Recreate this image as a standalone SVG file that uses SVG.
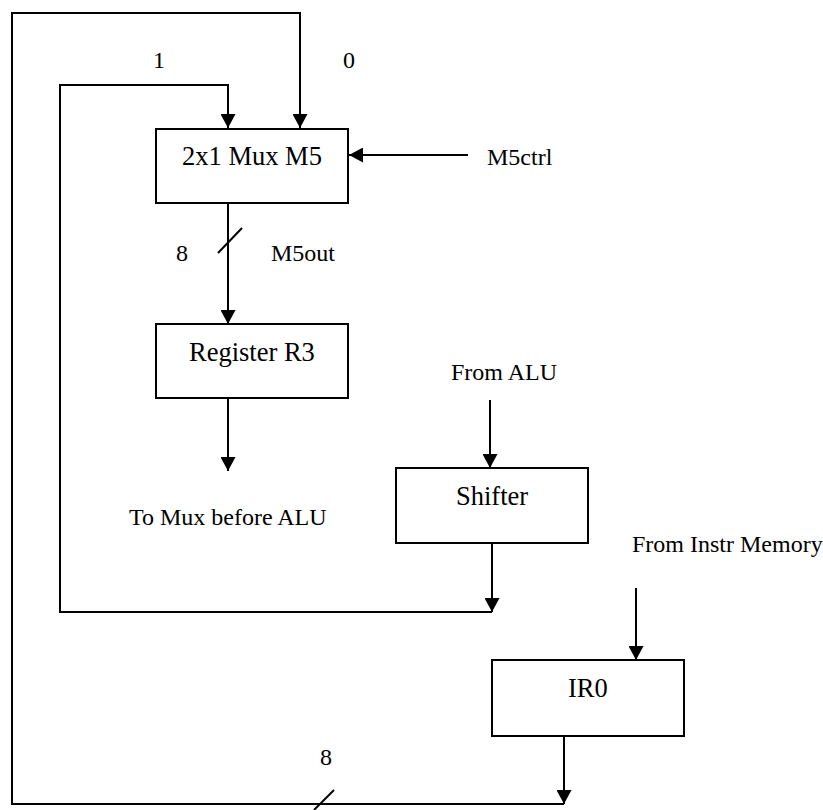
<svg xmlns="http://www.w3.org/2000/svg" width="823" height="810" viewBox="0 0 823 810">
<style>
.box{fill:#fff;stroke:#000;stroke-width:2}
.ln{fill:none;stroke:#000;stroke-width:2}
.t{font-family:"Liberation Serif","Times New Roman",serif;font-size:24px;fill:#000}
.bt{font-family:"Liberation Serif","Times New Roman",serif;font-size:26.5px;fill:#000}
</style>
<defs>
<marker id="ah" viewBox="0 0 14 15" refX="14" refY="7.5" markerWidth="14" markerHeight="15" markerUnits="userSpaceOnUse" orient="auto">
<path d="M0,0 L14,7.5 L0,15 z" fill="#000"/>
</marker>
</defs>
<rect width="823" height="810" fill="#fff"/>
<g id="connectors">
<path class="ln" d="M564,732 V804" marker-end="url(#ah)"/>
<path class="ln" d="M564,804 H12 V13 H300 V128" marker-end="url(#ah)"/>
<path class="ln" d="M492,540 V612" marker-end="url(#ah)"/>
<path class="ln" d="M492,612 H60 V85 H228 V128" marker-end="url(#ah)"/>
<path class="ln" d="M468,155 H349" marker-end="url(#ah)"/>
<path class="ln" d="M228,203 V324" marker-end="url(#ah)"/>
<path class="ln" d="M228,398 V471" marker-end="url(#ah)"/>
<path class="ln" d="M490,400 V468" marker-end="url(#ah)"/>
<path class="ln" d="M636,588 V660" marker-end="url(#ah)"/>
<path class="ln" d="M218,253 L242,228"/>
<path class="ln" d="M314,810 L334,790"/>
<text class="t" x="153" y="68">1</text>
<text class="t" x="343" y="68">0</text>
<text class="t" x="487" y="165">M5ctrl</text>
<text class="t" x="176" y="261">8</text>
<text class="t" x="271" y="261">M5out</text>
<text class="t" x="451" y="380">From ALU</text>
<text class="t" x="129" y="525">To Mux before ALU</text>
<text class="t" x="632" y="552">From Instr Memory</text>
<text class="t" x="320" y="765">8</text>
</g>
<g id="mux">
<rect class="box" x="156" y="129" width="192" height="74"/>
<text class="bt" x="182" y="165">2x1 Mux M5</text>
</g>
<g id="register">
<rect class="box" x="156" y="324" width="192" height="74"/>
<text class="bt" x="189" y="361">Register R3</text>
</g>
<g id="shifter">
<rect class="box" x="396" y="468" width="192" height="75"/>
<text class="bt" x="456" y="505">Shifter</text>
</g>
<g id="ir0">
<rect class="box" x="492" y="660" width="192" height="76"/>
<text class="bt" x="568" y="697">IR0</text>
</g>
</svg>
